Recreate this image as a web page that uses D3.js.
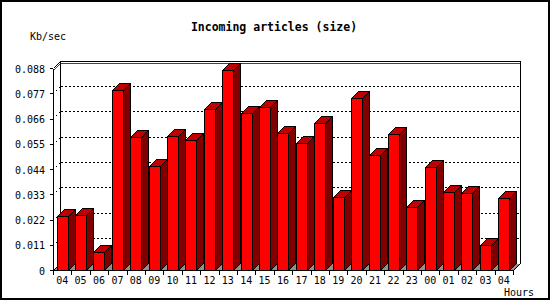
<!DOCTYPE html>
<html>
<head>
<meta charset="utf-8">
<script src="https://cdn.jsdelivr.net/npm/d3@7"></script>
<style>
  body { margin: 0; background: #fff; }
  svg { display: block; }
</style>
</head>
<body>
<div id="chart"></div>
<script>
const hours = ["04", "05", "06", "07", "08", "09", "10", "11", "12", "13", "14", "15", "16",
               "17", "18", "19", "20", "21", "22", "23", "00", "01", "02", "03", "04"];
const kbPerSec = [0.0235, 0.0240, 0.0077, 0.0784, 0.0580, 0.0453, 0.0584, 0.0565, 0.0701, 0.0870,
                  0.0683, 0.0709, 0.0596, 0.0552, 0.0639, 0.0319, 0.0748, 0.0502, 0.0591, 0.0276,
                  0.0447, 0.0338, 0.0334, 0.0108, 0.0312];
const yTicks = [0, 0.011, 0.022, 0.033, 0.044, 0.055, 0.066, 0.077, 0.088];

const width = 550;
const height = 300;
const depth = 7;
const mono = "'DejaVu Sans Mono', monospace";

const svg = d3.select("#chart").append("svg")
              .attr("width", width)
              .attr("height", height)
              .style("shape-rendering", "crispEdges")

svg.append("rect")
   .attr("x", 1).attr("y", 1)
   .attr("width", width - 2).attr("height", height - 2)
   .attr("fill", "white")
   .attr("stroke", "black")
   .attr("stroke-width", 2)

const xScale = d3.scaleBand()
                 .domain(d3.range(hours.length))
                 .range([53, 513])

const yScale = d3.scaleLinear()
                 .domain([0, 0.088])
                 .range([270, 68])

const x0 = xScale.range()[0] + 0.5;
const x1 = xScale.range()[1] + 0.5;
const yBase = yScale(0) + 0.5;
const yTop = yScale(0.088) + 0.5;

// floor
svg.append("polygon")
   .attr("points", [[x0, yBase], [x1, yBase], [x1 + depth, yBase - depth], [x0 + depth, yBase - depth]].join(" "))
   .attr("fill", "#909090")

// grid on the back wall
svg.selectAll("line.grid")
   .data(yTicks.filter(d => d > 0 && d < 0.088))
   .enter()
   .append("line")
   .attr("class", "grid")
   .attr("x1", x0 + depth).attr("x2", x1 + depth)
   .attr("y1", d => Math.round(yScale(d)) + 0.5 - depth)
   .attr("y2", d => Math.round(yScale(d)) + 0.5 - depth)
   .attr("stroke", "black")
   .attr("stroke-dasharray", "2,2")

// grid on the side wall
svg.selectAll("line.side-grid")
   .data(yTicks.filter(d => d > 0 && d < 0.088))
   .enter()
   .append("line")
   .attr("class", "side-grid")
   .attr("x1", x0).attr("x2", x0 + depth)
   .attr("y1", d => Math.round(yScale(d)) + 0.5)
   .attr("y2", d => Math.round(yScale(d)) + 0.5 - depth)
   .attr("stroke", "black")
   .attr("stroke-dasharray", "1,3")

// max line
const maxY = Math.round(yScale(d3.max(kbPerSec))) + 0.5;
svg.append("polyline")
   .attr("points", [[x0, maxY], [x0 + depth, maxY - depth], [x1 + depth, maxY - depth]].join(" "))
   .attr("fill", "none")
   .attr("stroke", "#e00000")

// back frame
svg.append("polyline")
   .attr("points", [[x0, yTop], [x0 + depth, yTop - depth], [x1 + depth, yTop - depth],
                    [x1 + depth, yBase - depth], [x1, yBase]].join(" "))
   .attr("fill", "none")
   .attr("stroke", "black")

svg.append("polyline")
   .attr("points", [[x0 + depth, yTop - depth], [x0 + depth, yBase - depth], [x0, yBase]].join(" "))
   .attr("fill", "none")
   .attr("stroke", "black")

// y axis
const gy = svg.append("g")
              .attr("transform", "translate(53, 0)")
              .call(d3.axisLeft(yScale)
                      .tickValues(yTicks)
                      .tickFormat(d => d === 0 ? "0" : d3.format(".3f")(d))
                      .tickSize(3)
                      .tickPadding(5)
                      .tickSizeOuter(0))
gy.selectAll("text")
  .attr("font-family", mono)
  .attr("font-size", 10)
  .attr("fill", "black")
  .attr("dy", "0.4em")

// x axis
const gx = svg.append("g")
              .attr("transform", "translate(0, 270)")
              .call(d3.axisBottom(xScale)
                      .tickFormat(i => hours[i])
                      .tickSize(0)
                      .tickPadding(7)
                      .tickSizeOuter(0))
gx.selectAll("text")
  .attr("font-family", mono)
  .attr("font-size", 10)
  .attr("fill", "black")

svg.selectAll("line.xtick")
   .data(d3.range(hours.length + 1))
   .enter()
   .append("line")
   .attr("class", "xtick")
   .attr("x1", i => Math.round(i < hours.length ? xScale(i) : xScale.range()[1]) + 0.5)
   .attr("x2", i => Math.round(i < hours.length ? xScale(i) : xScale.range()[1]) + 0.5)
   .attr("y1", yBase)
   .attr("y2", yBase + 4)
   .attr("stroke", "black")

// bars
const barW = 11;
const bars = svg.selectAll("g.bar")
                .data(kbPerSec.map((v, i) => ({ i: i, v: v })))
                .enter()
                .append("g")
                .attr("class", "bar")

const bx = d => Math.round(xScale(d.i) + 3.5) + 0.5;
const by = d => Math.round(yScale(d.v)) + 0.5;

bars.append("polygon")
    .attr("points", d => [[bx(d) + barW, by(d)], [bx(d) + barW + depth, by(d) - depth],
                          [bx(d) + barW + depth, yBase - depth], [bx(d) + barW, yBase]].join(" "))
    .attr("fill", "#800000")
    .attr("stroke", "black")

bars.append("polygon")
    .attr("points", d => [[bx(d), by(d)], [bx(d) + depth, by(d) - depth],
                          [bx(d) + barW + depth, by(d) - depth], [bx(d) + barW, by(d)]].join(" "))
    .attr("fill", "#c00000")
    .attr("stroke", "black")

bars.append("rect")
    .attr("x", bx)
    .attr("y", by)
    .attr("width", barW)
    .attr("height", d => yBase - by(d))
    .attr("fill", "#ff0000")
    .attr("stroke", "black")

// texts
svg.append("text")
   .attr("x", 274)
   .attr("y", 31)
   .attr("text-anchor", "middle")
   .attr("font-family", mono)
   .attr("font-weight", "bold")
   .attr("font-size", 11.5)
   .text("Incoming articles (size)")

svg.append("text")
   .attr("x", 30)
   .attr("y", 40)
   .attr("font-family", mono)
   .attr("font-size", 10)
   .text("Kb/sec")

svg.append("text")
   .attr("x", 504)
   .attr("y", 296)
   .attr("font-family", mono)
   .attr("font-size", 10)
   .text("Hours")
</script>
</body>
</html>
